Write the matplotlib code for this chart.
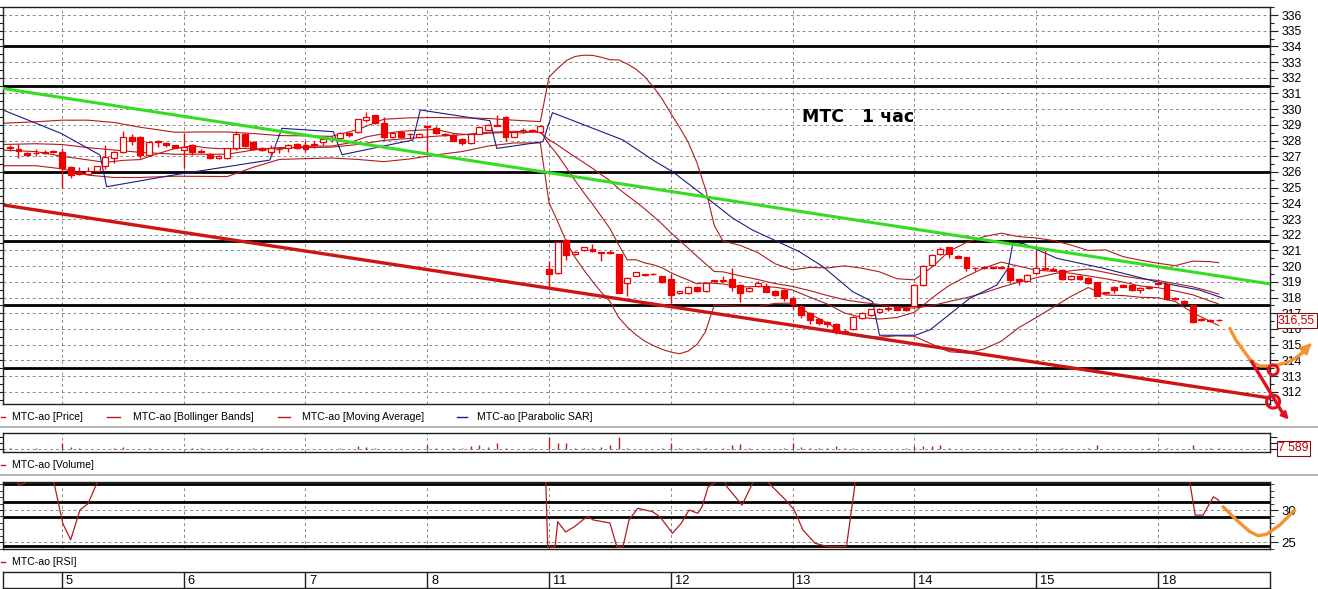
import matplotlib as mpl
mpl.use('Agg')
import matplotlib.pyplot as plt
from matplotlib import font_manager
from matplotlib.patches import Rectangle, Ellipse
from matplotlib.lines import Line2D
import numpy as np

# hourly bars, bar 0 = first hour of the 5th (six bars of the 4th before it)
first_bar = -6
opens = [327.6, 327.45, 327.2, 327.2, 327.3, 327.25,
         327.3, 326.3, 326.0, 325.9, 326.05, 326.35, 326.9, 327.3, 328.25, 328.2, 327.1, 328.0, 327.85, 327.7,
         327.4, 327.7, 327.35, 327.12, 326.88, 326.87, 327.5, 328.45, 327.93, 327.5, 327.25, 327.45, 327.5, 327.78,
         327.7, 327.75, 327.93, 328.1, 328.15, 328.5, 328.55, 329.3, 329.6, 329.1, 328.2, 328.57, 328.4, 328.25,
         328.95, 328.8, 328.42, 328.35, 328.1, 327.87, 328.45, 328.7, 328.95, 329.5, 328.25, 328.65, 328.7, 328.57,
         319.8, 319.55, 321.67, 320.75, 321.0, 321.1, 320.85, 320.92, 320.78, 318.9, 319.4, 319.45, 319.52, 319.37,
         319.2, 318.27, 318.27, 318.7, 318.4, 319.12, 319.08, 319.16, 318.8, 318.42, 318.74, 318.76, 318.44, 318.5,
         318.0, 317.45, 317.0, 316.62, 316.45, 316.3, 315.82, 316.0, 316.7, 316.9, 317.06, 317.28, 317.4, 317.35,
         317.45, 318.8, 320.07, 320.75, 321.2, 320.65, 320.57, 319.87, 319.9, 319.9, 319.97, 319.87, 319.2, 319.05,
         319.55, 319.88, 319.85, 319.76, 319.18, 319.4, 319.27, 318.97, 318.3, 318.7, 318.8, 318.8, 318.5, 318.62,
         318.9, 318.87, 317.9, 317.78, 317.5, 316.6, 316.5, 316.6]
highs = [327.75, 327.8, 327.3, 327.45, 327.4, 327.4,
         327.5, 326.35, 326.3, 326.3, 326.4, 327.75, 327.35, 328.6, 328.45, 328.3, 328.0, 328.05, 327.9, 327.75,
         328.46, 327.8, 327.45, 327.2, 327.1, 327.55, 328.6, 328.5, 328.0, 327.6, 327.7, 327.6, 327.8, 327.85,
         328.0, 328.0, 328.1, 328.3, 328.55, 328.55, 329.4, 329.83, 329.65, 329.5, 328.55, 328.6, 328.5, 328.5,
         329.0, 328.9, 328.5, 328.4, 328.15, 328.45, 328.95, 329.05, 329.6, 329.55, 328.6, 328.8, 328.75, 329.0,
         320.3, 321.6, 321.7, 320.95, 321.25, 321.4, 320.9, 321.0, 320.8, 319.3, 319.65, 319.5, 319.55, 319.4,
         319.5, 318.45, 318.75, 318.75, 318.95, 319.15, 319.4, 319.9, 318.85, 318.65, 319.05, 318.9, 318.5, 318.55,
         318.1, 317.5, 317.1, 316.7, 316.5, 316.35, 316.0, 316.8, 317.05, 317.3, 317.35, 317.45, 317.45, 317.4,
         318.85, 320.1, 320.75, 321.2, 321.25, 320.7, 320.6, 319.95, 320.0, 320.0, 320.0, 319.9, 319.25, 319.5,
         321.0, 321.0, 319.95, 319.8, 319.45, 319.45, 319.3, 319.0, 318.35, 318.75, 318.85, 318.85, 318.65, 318.75,
         318.95, 318.9, 318.05, 317.85, 317.55, 316.7, 316.65, 316.62]
lows = [327.35, 326.9, 327.0, 327.0, 327.15, 327.2,
        325.0, 325.6, 325.8, 325.85, 326.0, 326.2, 326.6, 327.2, 327.75, 326.9, 327.05, 327.6, 327.6, 327.5,
        326.24, 327.1, 327.2, 326.85, 326.85, 326.85, 327.4, 327.6, 327.4, 327.35, 327.0, 327.2, 327.3, 327.45,
        327.3, 327.5, 327.7, 327.9, 328.0, 328.2, 328.5, 329.2, 329.05, 328.1, 328.15, 328.15, 328.1, 328.2,
        327.1, 328.4, 328.3, 327.95, 327.7, 327.8, 328.4, 328.65, 328.9, 328.0, 328.2, 328.5, 328.55, 328.5,
        318.7, 319.5, 320.4, 320.7, 320.95, 320.9, 320.35, 320.8, 318.27, 318.1, 319.35, 319.4, 319.45, 318.9,
        317.63, 318.2, 318.2, 318.35, 318.35, 319.0, 319.0, 318.4, 317.7, 318.35, 318.7, 318.35, 318.1, 317.8,
        317.3, 316.7, 316.3, 316.25, 316.1, 315.7, 315.8, 315.95, 316.65, 316.85, 317.0, 317.15, 317.2, 317.15,
        317.4, 318.75, 320.0, 320.7, 320.5, 320.5, 319.7, 319.7, 319.8, 319.8, 319.85, 318.9, 318.8, 319.0,
        319.5, 319.8, 319.75, 319.15, 319.15, 319.15, 318.85, 318.1, 318.25, 318.3, 318.65, 318.45, 318.3, 318.55,
        318.8, 317.85, 317.85, 317.6, 316.35, 316.5, 316.45, 316.5]
closes = [327.5, 327.35, 327.1, 327.2, 327.2, 327.35,
          326.25, 325.8, 325.85, 326.05, 326.35, 326.95, 327.3, 328.25, 327.95, 327.1, 327.9, 327.9, 327.7, 327.55,
          327.6, 327.3, 327.28, 326.9, 327.05, 327.5, 328.45, 327.67, 327.45, 327.42, 327.5, 327.47, 327.75, 327.5,
          327.45, 327.8, 328.08, 328.12, 328.46, 328.35, 329.36, 329.52, 329.1, 328.2, 328.5, 328.2, 328.42, 328.45,
          328.88, 328.5, 328.37, 327.98, 327.87, 328.4, 328.85, 329.0, 329.02, 328.2, 328.57, 328.66, 328.6, 328.9,
          319.5, 321.52, 320.7, 320.9, 321.2, 320.95, 320.87, 320.85, 318.27, 319.27, 319.6, 319.47, 319.47, 319.0,
          318.17, 318.4, 318.7, 318.4, 318.9, 319.05, 319.1, 318.7, 318.27, 318.59, 318.9, 318.38, 318.17, 317.96,
          317.6, 316.9, 316.6, 316.4, 316.3, 315.9, 315.88, 316.74, 317.0, 317.27, 317.3, 317.3, 317.23, 317.2,
          318.8, 320.03, 320.7, 321.1, 320.75, 320.55, 319.86, 319.88, 319.9, 319.92, 319.87, 319.12, 319.05, 319.45,
          319.87, 319.82, 319.78, 319.18, 319.4, 319.18, 318.9, 318.12, 318.32, 318.48, 318.7, 318.48, 318.6, 318.7,
          318.85, 317.9, 318.0, 317.64, 316.43, 316.62, 316.6, 316.55]
volumes = [5000, 4000, 3000, 5000, 4000, 3000,
           42000, 12000, 5000, 4000, 3000, 4000, 5000, 12000, 4000, 3000, 5000, 4000, 3000, 4000,
           3000, 10000, 5000, 4000, 3000, 5000, 4000, 3000, 8000, 5000, 4000, 3000, 4000, 3000,
           4000, 3000, 3000, 4000, 5000, 4000, 21000, 15000, 5000, 4000, 3000, 4000, 3000, 4000,
           30000, 5000, 4000, 6000, 8000, 21000, 27000, 15000, 42000, 5000, 4000, 3000, 5000, 4000,
           81000, 38000, 38000, 6000, 5000, 8000, 15000, 27000, 81000, 5000, 4000, 3000, 4000, 5000,
           42000, 5000, 4000, 6000, 5000, 4000, 8000, 27000, 34000, 5000, 4000, 3000, 4000, 5000,
           42000, 15000, 6000, 10000, 5000, 21000, 8000, 5000, 4000, 3000, 4000, 3000, 4000, 5000,
           21000, 21000, 21000, 27000, 5000, 4000, 3000, 4000, 3000, 4000, 3000, 4000, 5000, 3000,
           4000, 3000, 4000, 5000, 3000, 4000, 5000, 27000, 4000, 3000, 4000, 3000, 4000, 5000,
           4000, 5000, 4000, 3000, 27000, 4000, 5000, 7589]

day_starts = [0, 14, 28, 42, 56, 70, 84, 98, 112, 126]
day_labels = ['5', '6', '7', '8', '11', '12', '13', '14', '15', '18']

# Bollinger bands (20) and moving average
bb_x = [-7, -3, 0, 3, 6, 9, 13, 16, 19, 22, 25, 28, 31, 34, 37, 40, 43, 46, 49, 52, 55,
        56, 57, 58, 59, 60, 61, 62, 63, 64, 65, 66, 67, 68, 69, 70, 71, 72, 73, 74, 75, 76,
        78, 80, 82, 84, 86, 88, 90, 92, 94, 96, 98, 100, 102, 104, 106, 108, 110, 112, 114,
        116, 118, 120, 122, 124, 126, 128, 130, 132, 133]
bb_upper = [329.1, 329.2, 329.3, 329.3, 329.15, 328.85, 328.53, 328.55, 328.55, 328.45, 328.32,
            328.3, 328.27, 328.7, 329.36, 329.45, 329.47, 329.45, 329.41, 329.3, 329.21,
            332.05, 332.6, 333.1, 333.36, 333.44, 333.43, 333.31, 333.15, 333.14, 332.88, 332.55,
            332.07, 331.42, 330.66, 329.73, 328.86, 327.9, 326.6, 324.9, 322.6, 321.6,
            321.32, 320.87, 320.15, 319.77, 319.92, 319.89, 320.02, 319.87, 319.64, 319.2, 319.13,
            319.92, 320.95, 321.51, 321.88, 322.1, 321.88, 321.8, 321.63, 321.35, 321.0, 321.04,
            320.61, 320.38, 320.19, 320.03, 320.32, 320.29, 320.22]
bb_middle = [327.75, 327.8, 327.75, 327.55, 327.4, 327.25, 327.13, 327.13, 327.13, 327.4, 327.56,
             327.55, 327.58, 327.75, 328.01, 328.14, 328.28, 328.37, 328.53, 328.59, 328.53,
             328.05, 327.72, 327.33, 326.96, 326.6, 326.23, 325.83, 325.45, 324.94, 324.5, 324.09,
             323.65, 323.18, 322.68, 322.13, 321.64, 321.15, 320.64, 320.15, 319.66, 319.64,
             319.38, 319.15, 318.89, 318.71, 318.44, 318.13, 317.86, 317.69, 317.56, 317.38, 317.33,
             317.48, 317.75, 317.99, 318.3, 318.66, 318.98, 319.26, 319.51, 319.71, 319.82, 319.6,
             319.37, 319.2, 319.09, 318.89, 318.69, 318.39, 318.22]
bb_lower = [326.4, 326.4, 326.2, 325.8, 325.65, 325.65, 325.73, 325.72, 325.71, 326.3, 326.8,
            326.85, 326.89, 326.8, 326.66, 326.83, 327.09, 327.3, 327.65, 327.85, 327.85,
            324.05, 322.84, 321.55, 320.56, 319.76, 319.03, 318.35, 317.75, 316.74, 316.12, 315.63,
            315.23, 314.94, 314.7, 314.53, 314.42, 314.59, 315.0, 315.83, 317.52, 317.5,
            317.44, 317.43, 317.63, 317.65, 316.96, 316.37, 315.7, 315.51, 315.48, 315.56, 315.53,
            315.04, 314.55, 314.47, 314.72, 315.22, 316.08, 316.72, 317.39, 318.07, 318.64, 318.16,
            318.13, 318.02, 317.99, 317.75, 317.04, 316.49, 316.22]
ma_x = [-7, -3, 0, 3, 5, 7, 9, 11, 13, 15, 17, 19, 21, 23, 25, 27, 29, 31, 33, 35, 37, 39, 41, 43,
        45, 47, 49, 51, 53, 55, 56, 57, 58, 59, 60, 61, 62, 63, 64, 65, 66, 67, 68, 69, 70, 71, 72,
        73, 74, 76, 78, 80, 82, 84, 86, 88, 90, 92, 94, 96, 98, 100, 102, 104, 106, 108, 110, 112,
        114, 116, 118, 120, 122, 124, 126, 128, 130, 132, 133]
ma_v = [327.4, 327.3, 327.0, 326.77, 326.61, 326.74, 326.79, 327.16, 327.5, 327.66, 327.52, 327.47,
        327.5, 327.46, 327.47, 327.58, 327.65, 327.65, 327.85, 328.24, 328.44, 328.59, 328.66, 328.71,
        328.46, 328.36, 328.47, 328.51, 328.49, 328.61, 327.77, 327.08, 326.27, 325.46, 324.68, 323.95,
        323.18, 322.4, 321.37, 320.4, 320.41, 320.21, 320.09, 319.9, 319.59, 319.34, 319.12, 318.88,
        318.94, 318.87, 318.67, 318.71, 318.66, 318.48, 318.02, 317.59, 317.01, 316.73, 316.63, 316.73,
        317.06, 317.96, 318.77, 319.35, 319.88, 320.26, 320.0, 319.75, 319.67, 319.55, 319.38, 319.2,
        318.99, 318.74, 318.63, 318.42, 318.18, 317.78, 317.59]
sar_x = [-6.78, -0.1, 4.37, 5.14, 12.76, 23.9, 25.3, 31.2, 32.2, 40.35, 41.2, 49.2, 50.0, 55.3,
         56.4, 64.5, 67.95, 70.25, 74.5, 77.1, 79.4, 84.8, 87.5, 90.9, 93.2, 94.0, 98.1, 99.8,
         104.4, 107.5, 108.8, 109.3, 110.5, 114.4, 119.7, 125.9, 130.8, 133.5]
sar_v = [329.95, 328.46, 327.08, 325.06, 325.8, 326.76, 328.78, 328.57, 327.1, 328.04, 329.95,
         329.27, 327.5, 327.93, 329.78, 328.04, 326.76, 326.0, 324.2, 323.07, 322.3, 320.92, 319.97,
         318.38, 317.74, 315.6, 315.6, 315.94, 317.96, 318.8, 319.89, 321.35, 321.45, 320.5, 319.87,
         319.0, 318.48, 317.96]

# hand drawn lines on the chart
level_lines = [334.04, 331.5, 326.0, 321.62, 317.53, 313.54]
green_x = [-6.78, 138.9]
green_v = [331.32, 318.87]
red_trend_x = [-6.78, 138.9]
red_trend_v = [323.9, 311.6]
orange_x = [134.28, 134.97, 135.81, 136.78, 137.74, 139.23, 141.18, 142.33, 143.48]
orange_v = [316.04, 315.3, 314.66, 313.92, 313.64, 313.64, 313.92, 314.34, 314.98]

# RSI pieces that dip into the window
rsi_a_x = [-5.6, -5.0, -4.3, -3.8]
rsi_a = [36.0, 33.9, 34.1, 36.0]
rsi_b_x = [-1.2, 0.1, 1.0, 2.07, 3.0, 4.0, 4.4]
rsi_b = [36.0, 27.9, 25.4, 30.0, 31.0, 34.1, 36.0]
rsi_c_x = [55.6, 55.85, 56.7, 57.0, 57.9, 58.9, 60.4, 61.1, 63.0, 63.8, 64.5, 65.2, 66.2, 67.9,
           68.75, 70.2, 71.2, 72.1, 73.1, 73.6, 74.3, 75.0, 75.6, 75.9, 76.45, 78.2, 79.4, 79.9,
           80.8, 81.3, 83.2, 84.2, 85.2, 86.6, 88.1, 90.2, 91.2, 91.4]
rsi_c = [36.0, 24.3, 24.3, 28.2, 26.6, 27.4, 29.0, 28.45, 28.0, 24.3, 24.3, 28.45, 30.26, 29.74,
         28.96, 26.4, 27.94, 30.0, 29.5, 30.5, 33.6, 34.1, 36.0, 36.0, 33.6, 30.77, 34.13, 36.0,
         36.0, 34.13, 31.55, 30.0, 26.9, 24.85, 24.33, 24.33, 34.13, 36.0]
rsi_d_x = [129.4, 129.7, 130.3, 131.2, 132.4, 133.0]
rsi_d = [36.0, 34.1, 29.2, 29.2, 32.05, 31.5]
rsi_levels = [33.97, 31.28, 28.96, 24.49]
rsi_orange_x = [133.5, 135.05, 136.58, 137.54, 138.5, 140.03, 141.75]
rsi_orange = [30.51, 28.45, 26.65, 26.03, 26.25, 27.68, 30.0]

installed = {f.name for f in font_manager.fontManager.ttflist}
narrow = 'Liberation Sans Narrow' if 'Liberation Sans Narrow' in installed else 'Liberation Sans'
plt.rcParams['font.family'] = [narrow, 'DejaVu Sans']
small = 9 if narrow == 'Liberation Sans Narrow' else 7.6
ticksize = 9.5 if narrow == 'Liberation Sans Narrow' else 8.8

W, H = 1318, 589
fig = plt.figure(figsize=(W / 100, H / 100), dpi=100)


def px_box(x0, y0, x1, y1):
    return [x0 / W, 1 - y1 / H, (x1 - x0) / W, (y1 - y0) / H]


xlim = (-6.78, 138.9)
dash = (0, (3, 3))
grid_c = '#8a8a8a'
red = '#f00000'
band_c = '#b01c1c'
sar_c = '#1c1c84'
orange = '#f39332'
frame_c = '#202020'


def frame(a):
    for s in a.spines.values():
        s.set_color(frame_c)
        s.set_linewidth(1)
    a.set_xlim(xlim)
    a.set_xticks([])


# ---- price panel
ax = fig.add_axes(px_box(3, 7, 1270, 404))
frame(ax)
ax.set_ylim(311.22, 336.51)
for p in range(312, 337):
    ax.axhline(p, color=grid_c, lw=0.7, ls=dash, zorder=0)
for d in day_starts:
    ax.axvline(d, color=grid_c, lw=0.7, ls=dash, zorder=0)
for lv in level_lines:
    ax.axhline(lv, color='black', lw=2, zorder=1)

ax.plot(red_trend_x, red_trend_v, color='#cc1616', lw=2.4, zorder=2)
ax.plot(bb_x, bb_upper, color=band_c, lw=0.8, zorder=2)
ax.plot(bb_x, bb_middle, color=band_c, lw=0.8, zorder=2)
ax.plot(bb_x, bb_lower, color=band_c, lw=0.8, zorder=2)
ax.plot(ma_x, ma_v, color=band_c, lw=0.8, zorder=2)
ax.plot(sar_x, sar_v, color=sar_c, lw=0.8, zorder=2)

bars = np.arange(first_bar, first_bar + len(closes))
for i, o, h, l, c in zip(bars, opens, highs, lows, closes):
    ax.vlines(i, l, h, color=red, lw=1, zorder=4)
    body = max(abs(c - o), 0.04)
    ax.add_patch(Rectangle((i - 0.34, min(o, c)), 0.68, body,
                           fc=red if c < o else 'white', ec=red, lw=0.9, zorder=5))

ax.plot(green_x, green_v, color='#33dd22', lw=2.2, zorder=6)

ax.yaxis.tick_right()
ax.set_yticks(range(312, 337))
ax.set_yticks(np.arange(311.5, 336.6, 1.0), minor=True)
ax.tick_params(axis='y', which='both', left=True, right=True, labelleft=False, labelright=True,
               direction='out', color=frame_c, labelsize=ticksize, pad=2)
ax.tick_params(axis='y', which='major', length=6, width=0.8)
ax.tick_params(axis='y', which='minor', length=3, width=0.8)

ax.text(85.1, 329.5, 'МТС   1 час', fontsize=12.5, fontweight='bold', family='DejaVu Sans',
        va='center', ha='left', zorder=7)
ax.text(1.0063, 316.55, '316,55', transform=ax.get_yaxis_transform(), color='#c00000',
        fontsize=ticksize, va='center', ha='left', zorder=10, clip_on=False,
        bbox=dict(boxstyle='square,pad=0.12', fc='white', ec='#7a1010', lw=0.8))

# annotations drawn in the margin
ax.plot(orange_x, orange_v, color=orange, lw=2.4, clip_on=False, zorder=8,
        solid_capstyle='round')
ax.annotate('', xy=(orange_x[-1] + 0.4, orange_v[-1] + 0.25), xytext=(orange_x[-2], orange_v[-2]),
            arrowprops=dict(arrowstyle='-|>', color=orange, lw=2.2, mutation_scale=14),
            annotation_clip=False, zorder=8)
ax.plot([136.78, 140.4], [313.92, 310.6], color='#e01020', lw=2.4, clip_on=False, zorder=8)
ax.annotate('', xy=(141.3, 310.1), xytext=(140.2, 310.75),
            arrowprops=dict(arrowstyle='-|>', color='#e01020', lw=2, mutation_scale=10),
            annotation_clip=False, zorder=8)
ax.add_patch(Ellipse((139.26, 313.39), 10 / 8.698, 10 / 15.7, fill=False, ec='#e01020',
                     lw=2.2, clip_on=False, zorder=9))
ax.add_patch(Ellipse((139.26, 311.37), 13 / 8.698, 13 / 15.7, fill=False, ec='#e01020',
                     lw=2.2, clip_on=False, zorder=9))

# ---- volume panel
axv = fig.add_axes(px_box(3, 433, 1270, 452.3))
frame(axv)
axv.set_ylim(-20000, 105000)
axv.axhline(0, color=grid_c, lw=0.7, ls=dash, zorder=0)
for d in day_starts:
    axv.axvline(d, color=grid_c, lw=0.7, ls=dash, zorder=0)
axv.vlines(bars, 0, volumes, color='#b02020', lw=1)
axv.yaxis.tick_right()
axv.set_yticks([0, 40000, 80000])
axv.tick_params(axis='y', which='both', left=True, right=True, labelleft=False, labelright=False,
                direction='out', length=5, color=frame_c)
axv.text(1.0063, 7589, '7 589', transform=axv.get_yaxis_transform(), color='#c00000',
         fontsize=ticksize, va='center', ha='left', zorder=10, clip_on=False,
         bbox=dict(boxstyle='square,pad=0.12', fc='white', ec='#7a1010', lw=0.8))

# ---- RSI panel
axr = fig.add_axes(px_box(3, 482, 1270, 549))
frame(axr)
axr.set_ylim(23.97, 34.33)
for g in [25, 30]:
    axr.axhline(g, color=grid_c, lw=0.7, ls=dash, zorder=0)
for d in day_starts:
    axr.axvline(d, color=grid_c, lw=0.7, ls=dash, zorder=0)
for lv in rsi_levels:
    axr.axhline(lv, color='black', lw=2, zorder=1)
for sx, sv in [(rsi_a_x, rsi_a), (rsi_b_x, rsi_b), (rsi_c_x, rsi_c), (rsi_d_x, rsi_d)]:
    axr.plot(sx, sv, color=band_c, lw=0.9, zorder=3)
axr.plot(rsi_orange_x, rsi_orange, color=orange, lw=2.4, clip_on=False, zorder=8,
         solid_capstyle='round')
axr.yaxis.tick_right()
axr.set_yticks([25, 30])
axr.set_yticks(range(24, 35), minor=True)
axr.tick_params(axis='y', which='both', left=True, right=True, labelleft=False, labelright=True,
                direction='out', color=frame_c, labelsize=ticksize + 0.7, pad=2)
axr.tick_params(axis='y', which='major', length=6)
axr.tick_params(axis='y', which='minor', length=3)

# ---- date strip
axd = fig.add_axes(px_box(3, 572, 1270, 588))
frame(axd)
axd.set_ylim(0, 1)
axd.set_yticks([])
for d, lab in zip(day_starts, day_labels):
    axd.axvline(d, color=frame_c, lw=1)
    axd.text(d + 0.45, 0.45, lab, fontsize=ticksize + 0.5, va='center', ha='left')

# ---- captions between panels
legend_y = 417
fy = 1 - legend_y / H
fig.add_artist(Line2D([1 / W, 5 / W], [fy, fy], color=red, lw=1))
fig.text(12 / W, fy, 'MTC-ao [Price]', fontsize=small, va='center')
fig.add_artist(Line2D([107 / W, 120 / W], [fy, fy], color=band_c, lw=1))
fig.text(132.6 / W, fy, 'MTC-ao [Bollinger Bands]', fontsize=small, va='center')
fig.add_artist(Line2D([278 / W, 290 / W], [fy, fy], color=band_c, lw=1))
fig.text(302 / W, fy, 'MTC-ao [Moving Average]', fontsize=small, va='center')
fig.add_artist(Line2D([456.6 / W, 467 / W], [fy, fy], color=sar_c, lw=1))
fig.text(477 / W, fy, 'MTC-ao [Parabolic SAR]', fontsize=small, va='center')
fig.add_artist(Line2D([1 / W, 5 / W], [1 - 465 / H] * 2, color=band_c, lw=1))
fig.text(12 / W, 1 - 465 / H, 'MTC-ao [Volume]', fontsize=small, va='center')
fig.add_artist(Line2D([1 / W, 5 / W], [1 - 562 / H] * 2, color=band_c, lw=1))
fig.text(12 / W, 1 - 562 / H, 'MTC-ao [RSI]', fontsize=small, va='center')
for yy in [426.7, 475]:
    fig.add_artist(Line2D([0, 1], [1 - yy / H] * 2, color='#a8a8a8', lw=1.2))

fig.savefig('out.png', dpi=100)
